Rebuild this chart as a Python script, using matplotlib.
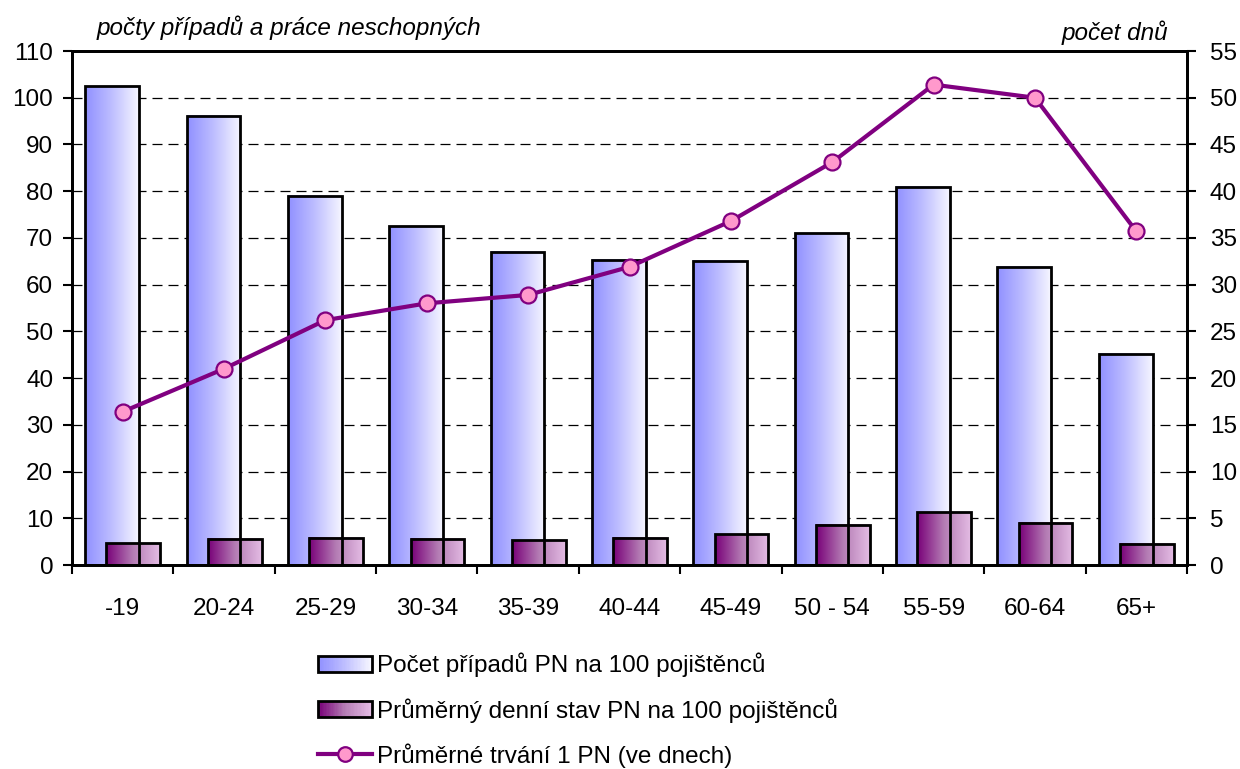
import numpy as np
import matplotlib
matplotlib.use("Agg")
import matplotlib.pyplot as plt
from matplotlib.colors import LinearSegmentedColormap
from matplotlib.patches import Rectangle
from matplotlib.lines import Line2D
from matplotlib.legend_handler import HandlerBase

plt.rcParams['font.family'] = ['Liberation Sans', 'DejaVu Sans']

categories = ["-19", "20-24", "25-29", "30-34", "35-39", "40-44", "45-49", "50 - 54", "55-59", "60-64", "65+"]
cases_per_100 = [102.5, 96.1, 79.0, 72.5, 67.0, 65.3, 65.1, 71.0, 80.9, 63.8, 45.2]
daily_state_per_100 = [4.7, 5.6, 5.8, 5.6, 5.3, 5.8, 6.6, 8.6, 11.3, 9.0, 4.5]
avg_duration_days = [16.4, 21.0, 26.2, 28.0, 28.9, 31.9, 36.8, 43.1, 51.4, 50.0, 35.7]

label_cases = "Počet případů PN na 100 pojištěnců"
label_state = "Průměrný denní stav PN na 100 pojištěnců"
label_dur = "Průměrné trvání 1 PN (ve dnech)"
left_title = "počty případů a práce neschopných"
right_title = "počet dnů"

FS = 17.5
cmap_blue = LinearSegmentedColormap.from_list("b", ["#9090FF", "#BEBEFF", "#F6F6FF"])
cmap_purp = LinearSegmentedColormap.from_list("p", ["#780078", "#B47CB4", "#E4BCE4"])
line_color = "#800080"
marker_face = "#FF99CC"

fig = plt.figure(figsize=(12.4, 7.69), dpi=100)
ax = fig.add_axes([72/1240, 1-565/769, (1187-72)/1240, (565-51)/769])
ax2 = ax.twinx()

x = np.arange(len(categories))
w = 0.53
off = 0.105

def gradient_bars(ax, xs, vals, cmap):
    bars = ax.bar(xs, vals, width=w, facecolor="none", edgecolor="black", linewidth=2, zorder=3)
    grad = np.linspace(0, 1, 256).reshape(1, -1)
    for b in bars:
        bx, by, bw, bh = b.get_x(), b.get_y(), b.get_width(), b.get_height()
        ax.imshow(grad, cmap=cmap, extent=[bx, bx + bw, by, by + bh], aspect="auto",
                  origin="lower", zorder=2, interpolation="bilinear")
    return bars

gradient_bars(ax, x - off, cases_per_100, cmap_blue)
gradient_bars(ax, x + off, daily_state_per_100, cmap_purp)

ax.set_xlim(-0.5, len(categories) - 0.5)
ax.set_ylim(0, 110)
ax.set_yticks(np.arange(0, 111, 10))
ax.set_xticks(np.arange(-0.5, len(categories), 1.0))
ax.set_xticklabels([])
ax.set_xticks(x, minor=True)
ax.set_xticklabels(categories, minor=True)
ax.tick_params(axis="x", which="minor", length=0, pad=24, labelsize=FS)
ax.tick_params(axis="x", which="major", length=6.5, width=1.5, direction="out")
ax.tick_params(axis="y", length=6.5, width=1.5, direction="out", labelsize=FS, pad=7)
for yv in range(10, 110, 10):
    ax.axhline(yv, color="black", linestyle=(0, (8, 4.8)), linewidth=0.9, zorder=1)
for s in ax.spines.values():
    s.set_linewidth(2)

ax2.plot(x, avg_duration_days, color=line_color, linewidth=3, marker="o", markersize=11.5,
         markerfacecolor=marker_face, markeredgecolor=line_color, markeredgewidth=1.6, zorder=5)
ax2.set_ylim(0, 55)
ax2.set_yticks(np.arange(0, 56, 5))
ax2.tick_params(axis="y", length=6.5, width=1.5, direction="out", labelsize=FS, pad=10)
for s in ax2.spines.values():
    s.set_linewidth(2)

fig.text(97/1240, 1-28/769, left_title, fontsize=FS, style="italic", ha="left", va="center")
fig.text(1168/1240, 1-33/769, right_title, fontsize=FS, style="italic", ha="right", va="center")

class GradHandler(HandlerBase):
    def __init__(self, cmap):
        super().__init__()
        self.cmap = cmap
    def create_artists(self, legend, orig_handle, xdescent, ydescent, width, height, fontsize, trans):
        arts = []
        n = 40
        hh = height * 0.92
        y0 = -ydescent + (height - hh) / 2
        for i in range(n):
            r = Rectangle((-xdescent + width * i / n, y0), width / n + 0.3, hh,
                          facecolor=self.cmap(i / (n - 1)), edgecolor="none", transform=trans)
            arts.append(r)
        arts.append(Rectangle((-xdescent, y0), width, hh, facecolor="none",
                              edgecolor="black", linewidth=2, transform=trans))
        return arts

h1 = Rectangle((0, 0), 1, 1)
h2 = Rectangle((0, 0), 1, 1, facecolor="red")
h3 = Line2D([0], [0], color=line_color, linewidth=3, marker="o", markersize=10.5,
            markerfacecolor=marker_face, markeredgecolor=line_color, markeredgewidth=1.6)

fig.legend([h1, h2, h3], [label_cases, label_state, label_dur],
           handler_map={h1: GradHandler(cmap_blue), h2: GradHandler(cmap_purp)},
           loc="upper left", bbox_to_anchor=(308/1240, 1-643/769), frameon=False,
           fontsize=FS, handlelength=2.22, handleheight=0.75, handletextpad=0.2,
           labelspacing=0.85, borderaxespad=0)

fig.savefig("out.png", dpi=100)
